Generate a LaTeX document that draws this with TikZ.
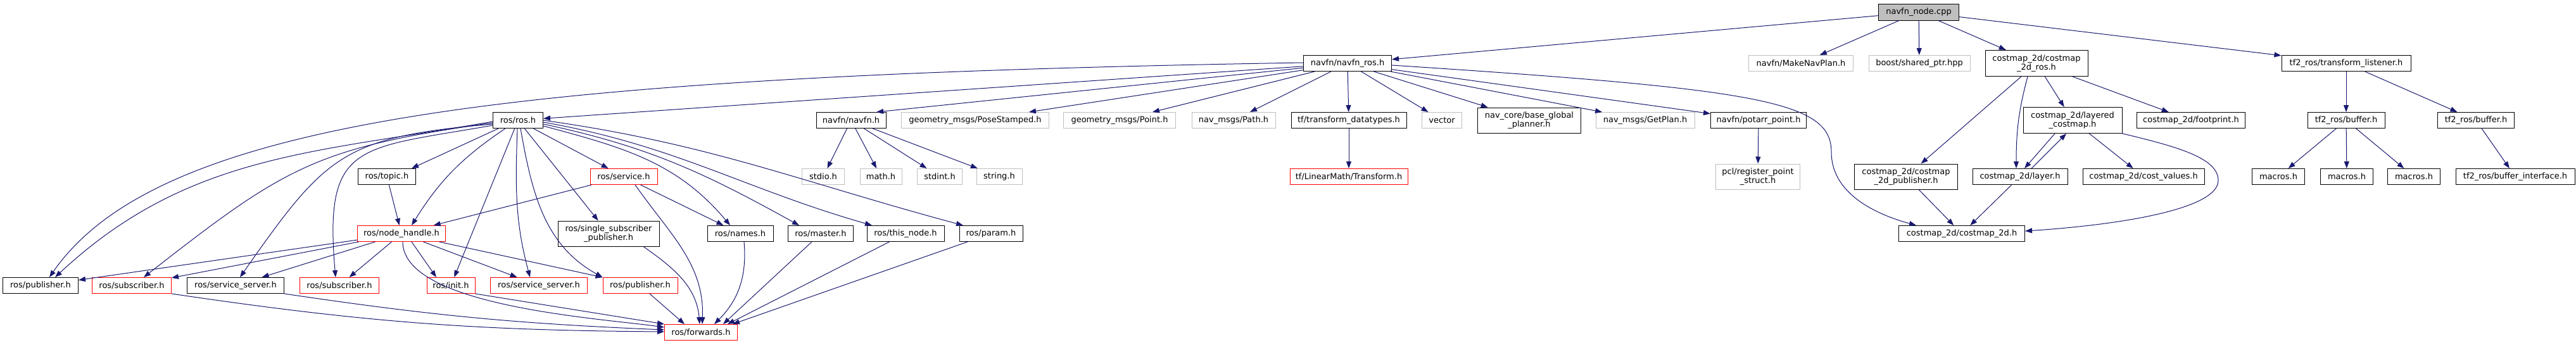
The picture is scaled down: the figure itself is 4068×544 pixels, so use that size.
\documentclass[tikz,border=0pt]{standalone}
\usepackage{fontspec}
\setmainfont{DejaVu Sans}
\usepackage{tikz}
\usetikzlibrary{arrows.meta}
\definecolor{edgeblue}{HTML}{191970}
\definecolor{extgray}{HTML}{BFBFBF}

\begin{document}
\begin{tikzpicture}[x=1pt,y=1pt,
        hdr/.style={draw,line width=1pt,inner xsep=2pt,inner ysep=0pt,minimum height=25,
            font=\fontsize{13}{14.5}\selectfont,align=center},
        doc/.style={hdr,draw=black},
        ext/.style={hdr,draw=extgray},
        trunc/.style={hdr,draw=red},
        srcfile/.style={hdr,draw=black,fill=extgray},
        incl/.style={draw=edgeblue,line width=1pt,-{Triangle[length=11pt,width=8pt]}}]
        \useasboundingbox (0,0) rectangle (4068,-544);

        %%%% Headers =====================================
        % Level 0
        \node[srcfile,minimum width=127,minimum height=26] (cpp) at (3030,-19) {navfn\_node.cpp};

        % Level 1
        \node[doc,minimum width=139] (navfnros) at (2128,-100) {navfn/navfn\_ros.h};
        \node[ext,minimum width=165] (makeplan) at (2844,-100) {navfn/MakeNavPlan.h};
        \node[ext,minimum width=160] (sharedptr) at (3031,-100) {boost/shared\_ptr.hpp};
        \node[doc,minimum width=162,minimum height=41] (cmros) at (3216,-100) {costmap\_2d/costmap\\\_2d\_ros.h};
        \node[doc,minimum width=204] (tflisten) at (3705,-100) {tf2\_ros/transform\_listener.h};

        % Level 2
        \node[doc,minimum width=79] (rosros) at (818,-190) {ros/ros.h};
        \node[doc,minimum width=110] (navfn) at (1344,-190) {navfn/navfn.h};
        \node[ext,minimum width=233] (posest) at (1540,-190) {geometry\_msgs/PoseStamped.h};
        \node[ext,minimum width=177] (geopoint) at (1768,-190) {geometry\_msgs/Point.h};
        \node[ext,minimum width=132] (navpath) at (1948,-190) {nav\_msgs/Path.h};
        \node[doc,minimum width=182] (tfdata) at (2130,-190) {tf/transform\_datatypes.h};
        \node[ext,minimum width=63] (vectorh) at (2277,-190) {vector};
        \node[doc,minimum width=163,minimum height=40] (basegp) at (2415,-190) {nav\_core/base\_global\\\_planner.h};
        \node[ext,minimum width=156] (getplan) at (2598,-190) {nav\_msgs/GetPlan.h};
        \node[doc,minimum width=151] (potarr) at (2777,-190) {navfn/potarr\_point.h};
        \node[doc,minimum width=156,minimum height=41] (layered) at (3273,-190) {costmap\_2d/layered\\\_costmap.h};
        \node[doc,minimum width=171] (footprint) at (3460,-190) {costmap\_2d/footprint.h};
        \node[doc,minimum width=122] (bufA) at (3705,-190) {tf2\_ros/buffer.h};
        \node[doc,minimum width=121] (bufB) at (3910,-190) {tf2\_ros/buffer.h};

        % Level 3
        \node[doc,minimum width=91] (topic) at (611,-279) {ros/topic.h};
        \node[trunc,minimum width=106] (service) at (985,-279) {ros/service.h};
        \node[ext,minimum width=67] (stdio) at (1300,-279) {stdio.h};
        \node[ext,minimum width=66] (mathh) at (1391,-279) {math.h};
        \node[ext,minimum width=71] (stdint) at (1484,-279) {stdint.h};
        \node[ext,minimum width=72] (stringh) at (1578,-279) {string.h};
        \node[trunc,minimum width=186] (tftrans) at (2130,-279) {tf/LinearMath/Transform.h};
        \node[ext,minimum width=133,minimum height=40] (pclreg) at (2776,-279) {pcl/register\_point\\\_struct.h};
        \node[doc,minimum width=163,minimum height=40] (cmpub) at (3010,-279) {costmap\_2d/costmap\\\_2d\_publisher.h};
        \node[doc,minimum width=150] (layer) at (3190,-279) {costmap\_2d/layer.h};
        \node[doc,minimum width=192] (costval) at (3385,-279) {costmap\_2d/cost\_values.h};
        \node[doc,minimum width=83] (macA) at (3598,-279) {macros.h};
        \node[doc,minimum width=83] (macB) at (3706,-279) {macros.h};
        \node[doc,minimum width=83] (macC) at (3812,-279) {macros.h};
        \node[doc,minimum width=188] (bufif) at (3972,-279) {tf2\_ros/buffer\_interface.h};

        % Level 4
        \node[trunc,minimum width=139] (nodeh) at (634,-369) {ros/node\_handle.h};
        \node[doc,minimum width=160,minimum height=40] (singlesub) at (961,-369) {ros/single\_subscriber\\\_publisher.h};
        \node[doc,minimum width=104] (names) at (1169,-369) {ros/names.h};
        \node[doc,minimum width=103] (master) at (1296,-369) {ros/master.h};
        \node[doc,minimum width=122] (thisnode) at (1430,-369) {ros/this\_node.h};
        \node[doc,minimum width=100] (param) at (1565,-369) {ros/param.h};
        \node[doc,minimum width=199] (cm2d) at (3098,-369) {costmap\_2d/costmap\_2d.h};

        % Level 5
        \node[doc,minimum width=119] (pubB) at (64,-451) {ros/publisher.h};
        \node[trunc,minimum width=125] (subR) at (208,-451) {ros/subscriber.h};
        \node[doc,minimum width=153] (srvB) at (372,-451) {ros/service\_server.h};
        \node[trunc,minimum width=125] (subRb) at (536,-451) {ros/subscriber.h};
        \node[trunc,minimum width=76] (init) at (712,-451) {ros/init.h};
        \node[trunc,minimum width=153] (srvR) at (851,-451) {ros/service\_server.h};
        \node[trunc,minimum width=118] (pubR) at (1011,-451) {ros/publisher.h};

        % Level 6
        \node[trunc,minimum width=115] (fwd) at (1107,-525) {ros/forwards.h};

        %%%% Includes ====================================
        % navfn_node.cpp
        \draw[incl] (cpp) -- (navfnros);
        \draw[incl] (cpp) -- (makeplan);
        \draw[incl] (cpp) -- (sharedptr);
        \draw[incl] (cpp) -- (cmros);
        \draw[incl] (cpp) -- (tflisten);

        % navfn/navfn_ros.h
        \draw[incl] (navfnros) -- (rosros);
        \draw[incl] ([yshift=1]navfnros.west) .. controls (800,-120) and (250,-190) .. ([xshift=14]pubB.north);
        \draw[incl] (navfnros) -- ([xshift=40]navfn.north);
        \draw[incl] (navfnros) -- (posest);
        \draw[incl] (navfnros) -- (geopoint);
        \draw[incl] (navfnros) -- (navpath);
        \draw[incl] (navfnros) -- (tfdata);
        \draw[incl] (navfnros) -- (vectorh);
        \draw[incl] (navfnros) -- (basegp);
        \draw[incl] (navfnros) -- (getplan);
        \draw[incl] (navfnros) -- (potarr);
        \draw[incl] ([yshift=-3]navfnros.east) .. controls (2780,-141) and (2892,-160) .. (2892,-240)
            .. controls (2892,-300) and (2950,-335) .. ([xshift=-72]cm2d.north);

        % navfn/navfn.h, tf, potarr
        \draw[incl] (navfn) -- (stdio);
        \draw[incl] (navfn) -- (mathh);
        \draw[incl] (navfn) -- (stdint);
        \draw[incl] (navfn) -- (stringh);
        \draw[incl] (tfdata) -- (tftrans);
        \draw[incl] (potarr) -- (pclreg);

        % costmap_2d
        \draw[incl] (cmros) -- (cmpub);
        \draw[incl] ([xshift=-14]cmros.south) to[out=-105,in=90] ([xshift=-6]layer.north);
        \draw[incl] (cmros) -- (layered);
        \draw[incl] (cmros) -- (footprint);
        \draw[incl] ([xshift=-28]layered.south) -- ([xshift=7]layer.north);
        \draw[incl] ([xshift=18]layer.north) -- ([xshift=-10]layered.south);
        \draw[incl] (layered) -- (costval);
        \draw[incl] (layered.south east) .. controls (3440,-232) and (3503,-250) .. (3503,-285)
            .. controls (3503,-330) and (3350,-355) .. ([yshift=4]cm2d.east);
        \draw[incl] (cmpub) -- (cm2d);
        \draw[incl] (layer) -- (cm2d);

        % tf2_ros
        \draw[incl] (tflisten) -- (bufA);
        \draw[incl] (tflisten) -- (bufB);
        \draw[incl] (bufA) -- (macA);
        \draw[incl] (bufA) -- (macB);
        \draw[incl] (bufA) -- (macC);
        \draw[incl] (bufB) -- (bufif);

        % ros/ros.h
        \draw[incl] ([xshift=-31]rosros.south) -- ([xshift=39]topic.north);
        \draw[incl] ([xshift=-20]rosros.south) to[bend right=12] ([xshift=16]nodeh.north);
        \draw[incl] (rosros) -- (init);
        \draw[incl] ([xshift=-1]rosros.south) to[out=-92,in=105] ([xshift=-14]srvR.north);
        \draw[incl] ([xshift=4]rosros.south) to[out=-80,in=151] (pubR.north west);
        \draw[incl] (rosros) -- (service);
        \draw[incl] (rosros) -- (singlesub);
        \draw[incl] ([yshift=-9]rosros.east) to[out=-15,in=130] ([xshift=-16]names.north);
        \draw[incl] ([yshift=-6]rosros.east) to[out=-12,in=151] ([xshift=-34]master.north);
        \draw[incl] ([yshift=-3]rosros.east) to[out=-10,in=164] ([xshift=-53]thisnode.north);
        \draw[incl] (rosros.east) to[out=-8,in=165] ([xshift=-44]param.north);
        \draw[incl] ([yshift=-2]rosros.west) to[out=190,in=43] ([xshift=23]pubB.north);
        \draw[incl] ([yshift=-4]rosros.west) to[out=188,in=38,looseness=1.2] ([xshift=19]subR.north);
        \draw[incl] ([yshift=-6]rosros.west) to[out=185,in=55,looseness=1.3] ([xshift=7]srvB.north);
        \draw[incl] ([yshift=-8]rosros.west) to[out=190,in=95,looseness=1.6] ([xshift=-6]subRb.north);

        % ros/topic.h, ros/node_handle.h
        \draw[incl] (topic) -- (nodeh);
        \draw[incl] (nodeh) -- (pubB);
        \draw[incl] (nodeh) -- (subR);
        \draw[incl] (nodeh) -- (srvB);
        \draw[incl] (nodeh) -- (subRb);
        \draw[incl] ([xshift=16]nodeh.south) -- ([xshift=-23]init.north);
        \draw[incl] (nodeh) -- (srvR);
        \draw[incl] (nodeh) -- (pubR);
        \draw[incl] ([xshift=2]nodeh.south) to[out=-90,in=172,looseness=0.6] ([yshift=8]fwd.west);

        % ros/service.h, ros/single_subscriber_publisher.h
        \draw[incl] (service) -- (nodeh);
        \draw[incl] (service) -- (names);
        \draw[incl] ([xshift=18]service.south) to[out=-55,in=88] ([xshift=2]fwd.north);
        \draw[incl] ([xshift=55]singlesub.south) to[out=-35,in=95] ([xshift=-2]fwd.north);

        % into ros/forwards.h
        \draw[incl] (subR.south east) to[bend right=4] ([yshift=1]fwd.west);
        \draw[incl] (srvB.south east) to[bend right=3] ([yshift=4]fwd.west);
        \draw[incl] (init.south east) -- (fwd.north west);
        \draw[incl] (pubR) -- ([xshift=-26]fwd.north);
        \draw[incl] ([xshift=6]names.south) to[out=-85,in=45] ([xshift=21]fwd.north);
        \draw[incl] (master) -- ([xshift=35]fwd.north);
        \draw[incl] (thisnode) -- ([xshift=42]fwd.north);
        \draw[incl] (param) -- ([xshift=50]fwd.north);
\end{tikzpicture}
\end{document}
